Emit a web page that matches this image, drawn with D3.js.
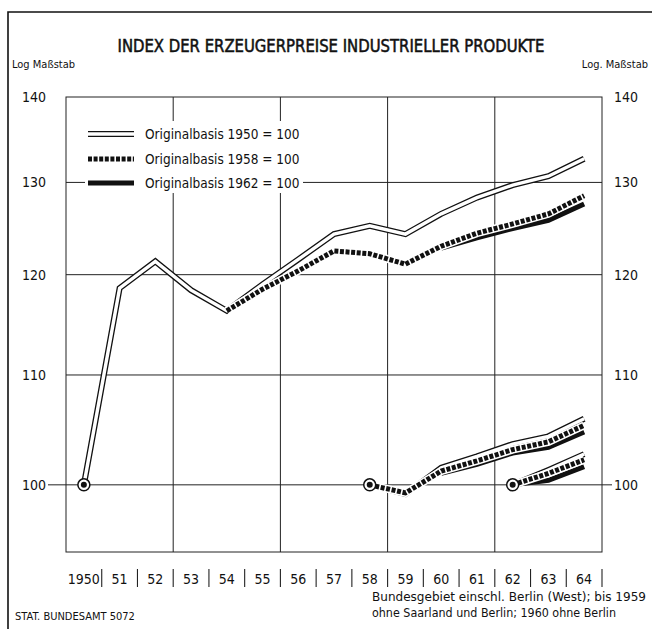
<!DOCTYPE html>
<html>
<head>
<meta charset="utf-8">
<script src="https://cdn.jsdelivr.net/npm/d3@7"></script>
<style>
  body { margin: 0; background: #fff; }
  svg text { font-family: "DejaVu Sans Condensed", "Liberation Sans Narrow", sans-serif; font-stretch: condensed; fill: #111; }
  .grid { stroke: #222; stroke-width: 1; fill: none; }
  .line-double-outer { fill: none; stroke: #111; stroke-width: 6; stroke-linejoin: miter; }
  .line-double-inner { fill: none; stroke: #fff; stroke-width: 3.4; stroke-linejoin: miter; }
  .line-dot-halo { fill: none; stroke: #fff; stroke-width: 8; }
  .line-dot { fill: none; stroke: #111; stroke-width: 5; stroke-dasharray: 4 1.6; }
  .line-solid { fill: none; stroke: #111; stroke-width: 5; }
</style>
</head>
<body>
<svg id="plot" width="652" height="629"></svg>
<script>
// values
var years = [1950, 1951, 1952, 1953, 1954, 1955, 1956, 1957, 1958, 1959, 1960, 1961, 1962, 1963, 1964];
var yearLabels = ["1950", "51", "52", "53", "54", "55", "56", "57", "58", "59", "60", "61", "62", "63", "64"];
var yTicks = [100, 110, 120, 130, 140];

// chained series on 1950 scale
var base1950 = [100, 118.6, 121.4, 118.4, 116.3, 119.0, 121.6, 124.3, 125.2, 124.3, 126.5, 128.3, 129.7, 130.7, 132.7];
var years1958chain = [1954, 1955, 1956, 1957, 1958, 1959, 1960, 1961, 1962, 1963, 1964];
var base1958chain = [116.3, 118.5, 120.4, 122.5, 122.2, 121.1, 123.0, 124.4, 125.4, 126.5, 128.5];
var years1962chain = [1960, 1961, 1962, 1963, 1964];
var base1962chain = [122.8, 123.9, 124.9, 125.8, 127.6];

// 1958 = 100
var years58 = [1958, 1959, 1960, 1961, 1962, 1963, 1964];
var base1950at58 = [100, 99.2, 101.5, 102.5, 103.6, 104.3, 105.9];
var base1958at58 = [100, 99.3, 101.2, 102.1, 103.1, 103.8, 105.3];
var years62at58 = [1960, 1961, 1962, 1963, 1964];
var base1962at58 = [101.0, 101.8, 102.8, 103.3, 104.7];

// 1962 = 100
var years62 = [1962, 1963, 1964];
var base1950at62 = [100, 101.3, 102.7];
var base1958at62 = [100, 101.0, 102.2];
var base1962at62 = [100, 100.4, 101.6];

var baseYears = [1950, 1958, 1962];

var legendItems = ["Originalbasis 1950 = 100", "Originalbasis 1958 = 100", "Originalbasis 1962 = 100"];

var svg = d3.select("#plot");
var plotLeft = 66, plotRight = 602, plotTop = 97, plotBottom = 552;

var x = d3.scaleLinear()
  .domain([1949.5, 1964.5])
  .range([plotLeft, plotRight]);

var y = d3.scaleLog()
  .domain([94.34, 140])
  .range([plotBottom, plotTop]);

// outer frame
svg.append("path")
  .attr("d", "M8,629 L8,12 L652,12")
  .attr("fill", "none")
  .attr("stroke", "#111")
  .attr("stroke-width", 1.6);

svg.append("text")
  .attr("x", 331).attr("y", 52)
  .attr("text-anchor", "middle")
  .attr("font-size", 17)
  .attr("stroke", "#111")
  .attr("stroke-width", 0.5)
  .attr("textLength", 427)
  .attr("lengthAdjust", "spacingAndGlyphs")
  .text("INDEX DER ERZEUGERPREISE INDUSTRIELLER PRODUKTE");

svg.append("text")
  .attr("x", 12).attr("y", 68)
  .attr("font-size", 11)
  .text("Log Maßstab");
svg.append("text")
  .attr("x", 648).attr("y", 68)
  .attr("text-anchor", "end")
  .attr("font-size", 11)
  .text("Log. Maßstab");

// grid
var g = svg.append("g");
g.append("rect")
  .attr("x", plotLeft).attr("y", plotTop)
  .attr("width", plotRight - plotLeft).attr("height", plotBottom - plotTop)
  .attr("class", "grid");

yTicks.forEach(function (t) {
  if (t == 140) return;
  g.append("line")
    .attr("class", "grid")
    .attr("x1", t == 100 ? plotLeft - 18 : plotLeft)
    .attr("x2", t == 100 ? plotRight + 10 : plotRight)
    .attr("y1", y(t)).attr("y2", y(t));
});

[1953, 1956, 1959, 1962].forEach(function (yr) {
  g.append("line")
    .attr("class", "grid")
    .attr("x1", x(yr - 0.5)).attr("x2", x(yr - 0.5))
    .attr("y1", plotTop).attr("y2", plotBottom);
});

// y labels both sides
yTicks.forEach(function (t) {
  svg.append("text")
    .attr("x", 46).attr("y", y(t) + 5)
    .attr("text-anchor", "end")
    .attr("font-size", 14)
    .text(t);
  svg.append("text")
    .attr("x", 614).attr("y", y(t) + 5)
    .attr("font-size", 14)
    .text(t);
});

// x labels with separators
years.forEach(function (yr, i) {
  svg.append("text")
    .attr("x", x(yr)).attr("y", 584)
    .attr("text-anchor", "middle")
    .attr("font-size", 14)
    .text(yearLabels[i]);
  svg.append("line")
    .attr("x1", x(yr + 0.5)).attr("x2", x(yr + 0.5))
    .attr("y1", 569).attr("y2", 587)
    .attr("stroke", "#222").attr("stroke-width", 1.1);
});

// legend box
var lg = svg.append("g");
lg.append("rect")
  .attr("x", 85).attr("y", 121)
  .attr("width", 218).attr("height", 72)
  .attr("fill", "#fff");

var rowY = [134, 159, 183];
var sx1 = 88, sx2 = 134;
lg.append("line").attr("class", "line-double-outer")
  .attr("x1", sx1).attr("x2", sx2).attr("y1", rowY[0]).attr("y2", rowY[0]);
lg.append("line").attr("class", "line-double-inner")
  .attr("x1", sx1 - 2).attr("x2", sx2 + 2).attr("y1", rowY[0]).attr("y2", rowY[0]);
lg.append("line").attr("class", "line-dot")
  .attr("x1", sx1).attr("x2", sx2).attr("y1", rowY[1]).attr("y2", rowY[1]);
lg.append("line").attr("class", "line-solid")
  .attr("x1", sx1).attr("x2", sx2).attr("y1", rowY[2]).attr("y2", rowY[2]);
legendItems.forEach(function (d, i) {
  lg.append("text")
    .attr("x", 145).attr("y", rowY[i] + 5)
    .attr("font-size", 13.5)
    .text(d);
});

// series
var line = d3.line()
  .x(function (d) { return x(d[0]); })
  .y(function (d) { return y(d[1]); });

function pairs(xs, vs) {
  return xs.map(function (yr, i) { return [yr, vs[i]]; });
}

function drawDouble(data) {
  svg.append("path").datum(data).attr("class", "line-double-outer").attr("d", line);
  svg.append("path").datum(data).attr("class", "line-double-inner").attr("d", line);
}
function drawDotted(data) {
  svg.append("path").datum(data).attr("class", "line-dot-halo").attr("d", line);
  svg.append("path").datum(data).attr("class", "line-dot").attr("d", line);
}
function drawSolid(data) {
  svg.append("path").datum(data).attr("class", "line-solid").attr("d", line);
}

drawDouble(pairs(years, base1950));
drawDouble(pairs(years58, base1950at58));
drawDouble(pairs(years62, base1950at62));

drawSolid(pairs(years62at58, base1962at58));
drawSolid(pairs(years62, base1962at62));
drawDotted(pairs(years58, base1958at58));
drawDotted(pairs(years62, base1958at62));

drawSolid(pairs(years1962chain, base1962chain));
drawDotted(pairs(years1958chain, base1958chain));

// base year markers
baseYears.forEach(function (yr) {
  svg.append("circle")
    .attr("cx", x(yr)).attr("cy", y(100)).attr("r", 6)
    .attr("fill", "#fff").attr("stroke", "#111").attr("stroke-width", 1.5);
  svg.append("circle")
    .attr("cx", x(yr)).attr("cy", y(100)).attr("r", 3)
    .attr("fill", "#111");
});

// footer
svg.append("text")
  .attr("x", 15).attr("y", 620)
  .attr("font-size", 11)
  .text("STAT. BUNDESAMT 5072");
svg.append("text")
  .attr("x", 372).attr("y", 601)
  .attr("font-size", 11.5)
  .attr("textLength", 274)
  .attr("lengthAdjust", "spacingAndGlyphs")
  .text("Bundesgebiet einschl. Berlin (West); bis 1959");
svg.append("text")
  .attr("x", 372).attr("y", 617)
  .attr("font-size", 11.5)
  .attr("textLength", 244)
  .attr("lengthAdjust", "spacingAndGlyphs")
  .text("ohne Saarland und Berlin; 1960 ohne Berlin");
</script>
</body>
</html>
